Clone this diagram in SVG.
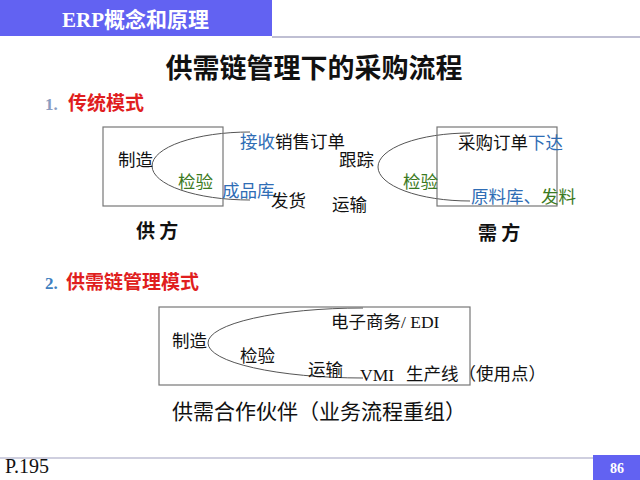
<svg xmlns="http://www.w3.org/2000/svg" width="640" height="480" viewBox="0 0 640 480">
<style>
.cjk{font-family:"Noto Sans CJK SC","Noto Sans",sans-serif;}
.ser{font-family:"Liberation Serif","Noto Sans CJK SC",serif;}
.t{font-size:17.5px;fill:#111;}
.blue{fill:#2F6DB5;}
.green{fill:#3C7A22;}
.red{fill:#E01E1E;font-weight:bold;}
.box{fill:none;stroke:#777;stroke-width:1.2;}
.curve{fill:none;stroke:#555;stroke-width:1;}
</style>
<rect width="640" height="480" fill="#fff"/>
<g id="header">
<rect x="0" y="0" width="272" height="36" fill="#6262F2"/>
<line x1="272" y1="37" x2="640" y2="37" stroke="#8080A8" stroke-width="1.2"/>
<text x="62" y="27" class="ser" font-size="21" font-weight="bold" fill="#fff">ERP<tspan class="cjk">概念和原理</tspan></text>
</g>
<text x="314" y="78" class="cjk" font-size="27" font-weight="bold" fill="#111" text-anchor="middle">供需链管理下的采购流程</text>
<text x="45" y="110" class="ser" font-size="17" font-weight="bold" fill="#8A9CC0">1.</text>
<text x="68" y="110" class="cjk red" font-size="19">传统模式</text>
<g id="connectors">
<path class="curve" d="M 250 132 A 98 34 0 0 0 250 200"/>
<path class="curve" d="M 470 133 A 92 34 0 0 0 470 201"/>
<path class="curve" d="M 363 308 A 155 35 0 0 0 363 378"/>
</g>
<g id="supplier">
<rect class="box" x="103" y="127" width="120" height="79"/>
<text x="118" y="166" class="cjk t">制造</text>
<text x="178" y="188" class="cjk t green">检验</text>
<text x="136" y="238" class="cjk" font-size="19" font-weight="bold" fill="#111">供 方</text>
</g>
<g id="middle">
<text x="240" y="148" class="cjk t"><tspan class="blue">接收</tspan>销售订单</text>
<text x="339" y="166" class="cjk t">跟踪</text>
<text x="222" y="197" class="cjk t blue">成品库</text>
<text x="271" y="207" class="cjk t">发货</text>
<text x="332" y="211" class="cjk t">运输</text>
</g>
<g id="buyer">
<rect class="box" x="437" y="127" width="120" height="79"/>
<text x="458" y="149" class="cjk t">采购订单<tspan class="blue">下达</tspan></text>
<text x="403" y="188" class="cjk t green">检验</text>
<text x="471" y="203" class="cjk t"><tspan class="blue">原料库、</tspan><tspan class="green">发料</tspan></text>
<text x="478" y="240" class="cjk" font-size="19" font-weight="bold" fill="#111">需 方</text>
</g>
<text x="45" y="289" class="ser" font-size="17" font-weight="bold" fill="#3F7FC0">2.</text>
<text x="66" y="289" class="cjk red" font-size="19">供需链管理模式</text>
<g id="partnership">
<rect class="box" x="159" y="307" width="311" height="78"/>
<text x="331" y="328" class="cjk t">电子商务<tspan class="ser">/ EDI</tspan></text>
<text x="172" y="347" class="cjk t">制造</text>
<text x="240" y="362" class="cjk t">检验</text>
<text x="308" y="376" class="cjk t">运输</text>
<text x="360" y="381" class="ser t">VMI</text>
<text x="406" y="380" class="cjk t">生产线（使用点）</text>
<text x="172" y="419" class="cjk" font-size="21" fill="#111">供需合作伙伴（业务流程重组）</text>
</g>
<g id="footer">
<line x1="0" y1="458" x2="593" y2="458" stroke="#A0A0C0" stroke-width="1.2"/>
<text x="5" y="473" class="ser" font-size="20" fill="#111">P.195</text>
<rect x="593" y="455" width="47" height="25" fill="#6262F2"/>
<text x="617" y="473" class="ser" font-size="14" font-weight="bold" fill="#fff" text-anchor="middle">86</text>
</g>
</svg>
